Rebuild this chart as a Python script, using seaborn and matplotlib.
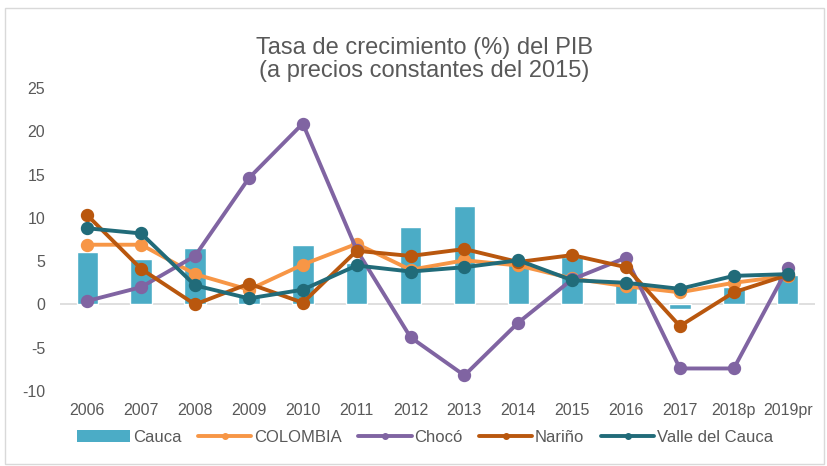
import matplotlib
matplotlib.use("Agg")
import matplotlib.pyplot as plt
from matplotlib.lines import Line2D
from matplotlib.patches import Patch, Rectangle
import seaborn as sns
import pandas as pd

years = ["2006", "2007", "2008", "2009", "2010", "2011", "2012", "2013",
         "2014", "2015", "2016", "2017", "2018p", "2019pr"]
cauca = [6.1, 5.2, 6.5, 1.0, 6.9, 4.8, 9.0, 11.4, 5.1, 5.5, 2.4, -0.5, 2.0, 3.4]
colombia = [6.9, 6.9, 3.5, 1.7, 4.6, 7.0, 4.0, 5.1, 4.5, 3.0, 2.1, 1.4, 2.5, 3.3]
choco = [0.4, 2.0, 5.6, 14.6, 20.9, 6.3, -3.8, -8.2, -2.1, 2.9, 5.4, -7.4, -7.4, 4.2]
narino = [10.3, 4.1, 0.0, 2.4, 0.2, 6.2, 5.6, 6.4, 4.9, 5.7, 4.3, -2.5, 1.4, 3.4]
valle = [8.8, 8.2, 2.2, 0.7, 1.7, 4.5, 3.8, 4.3, 5.1, 2.8, 2.5, 1.8, 3.3, 3.5]

series_names = ["COLOMBIA", "Chocó", "Nariño", "Valle del Cauca"]
series_values = [colombia, choco, narino, valle]
bar_name = "Cauca"
title = "Tasa de crecimiento (%) del PIB\n(a precios constantes del 2015)"

bar_color = "#4BACC6"
line_colors = ["#F79646", "#8064A2", "#B9570E", "#216B79"]
text_color = "#595959"

sns.set_theme(style="white")
plt.rcParams["font.family"] = ["Liberation Sans", "DejaVu Sans"]
plt.rcParams["axes.unicode_minus"] = False

fig = plt.figure(figsize=(8.27, 4.66), dpi=100)
ax = fig.add_axes([0.073, 0.161, 0.912, 0.650])

df_bar = pd.DataFrame({"year": years, "value": cauca})
sns.barplot(data=df_bar, x="year", y="value", color=bar_color, saturation=1,
            width=0.4, ax=ax, order=years)

for name, vals, col in zip(series_names, series_values, line_colors):
    d = pd.DataFrame({"year": years, "value": vals})
    sns.pointplot(data=d, x="year", y="value", order=years, color=col,
                  markers="o", linestyles="-", markersize=7.5, linewidth=2.8,
                  ax=ax, errorbar=None)

ax.axhline(0, color="#D9D9D9", lw=1.2, zorder=0.5)
ax.set_ylim(-10, 25)
ax.set_yticks(range(-10, 30, 5))
ax.set_xlim(-0.5, len(years) - 0.5)
ax.set_xlabel("")
ax.set_ylabel("")
for s in ax.spines.values():
    s.set_visible(False)
ax.tick_params(axis="both", length=0, labelsize=11.5, colors=text_color)
ax.tick_params(axis="y", pad=11)
ax.tick_params(axis="x", pad=9)

fig.text(0.513, 0.872, title, ha="center", va="center", fontsize=17,
         color=text_color, linespacing=1.1)

handles = [Patch(facecolor=bar_color, edgecolor="none", label=bar_name)]
for name, col in zip(series_names, line_colors):
    handles.append(Line2D([0], [0], color=col, lw=2.8, marker="o", markersize=4,
                          label=name))
fig.legend(handles=handles, loc="center left", bbox_to_anchor=(0.075, 0.062),
           ncol=5, frameon=False, fontsize=12, handlelength=3.2,
           handletextpad=0.15, columnspacing=1.0, labelcolor=text_color)

fig.patches.append(Rectangle((0.006, 0.004), 0.99, 0.978, transform=fig.transFigure,
                             fill=False, edgecolor="#D9D9D9", lw=1))

fig.savefig("out.png", dpi=100)
